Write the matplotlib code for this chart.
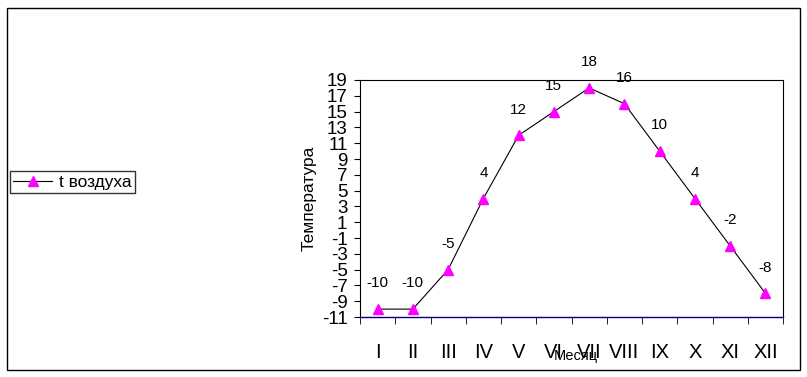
import numpy as np
import matplotlib.pyplot as plt
from matplotlib.patches import Rectangle

plt.rcParams['font.family'] = ['Liberation Sans', 'DejaVu Sans']

months = ['I', 'II', 'III', 'IV', 'V', 'VI', 'VII', 'VIII', 'IX', 'X', 'XI', 'XII']
temps = [-10, -10, -5, 4, 12, 15, 18, 16, 10, 4, -2, -8]
yticks = list(range(-11, 20, 2))

fig = plt.figure(figsize=(8.07, 3.77), dpi=100)
fig.patches.append(Rectangle((7 / 807, 7 / 377), 793 / 807, 362 / 377,
                             transform=fig.transFigure, fill=False,
                             edgecolor='black', linewidth=1))

ax = fig.add_axes([360 / 807, 60 / 377, 423 / 807, 237 / 377])
x = np.arange(len(months))
line, = ax.plot(x, temps, color='black', linewidth=0.8, marker='^',
                markersize=6.5, markerfacecolor='#ff00ff', markeredgecolor='#ff00ff',
                label='t воздуха')

for xi, t in zip(x, temps):
    ax.annotate(str(t), (xi, t), xytext=(0, 18.5), textcoords='offset points',
                ha='center', va='center', fontsize=11)

ax.set_xlim(-0.5, len(months) - 0.5)
ax.set_ylim(-11, 19)
ax.set_yticks(yticks)
ax.set_yticklabels([str(v) for v in yticks], fontsize=13.5)
ax.set_xticks(x)
ax.set_xticklabels(months, fontsize=14.5)
ax.tick_params(axis='x', length=0, pad=19)
ax.set_xticks(np.arange(-0.5, len(months)), minor=True)
ax.tick_params(axis='x', which='minor', length=5, direction='out')
ax.tick_params(axis='y', length=4, direction='out', pad=5)

for s in ['left', 'right', 'top']:
    ax.spines[s].set_color('black')
    ax.spines[s].set_linewidth(0.8)
ax.spines['bottom'].set_color('#000080')
ax.spines['bottom'].set_linewidth(1)

ax.set_ylabel('Температура', fontsize=12.5, labelpad=4)
ax.text(0.51, -0.135, 'Месяц', transform=ax.transAxes, ha='center', va='top', fontsize=10.5)

fig.legend(handles=[line], loc='upper left', bbox_to_anchor=(10 / 807, 1 - 171 / 377),
           fontsize=12.5, frameon=True, fancybox=False, edgecolor='black',
           borderpad=0.2, handlelength=2.2, handletextpad=0.4, borderaxespad=0)

fig.savefig('out.png', dpi=100)
